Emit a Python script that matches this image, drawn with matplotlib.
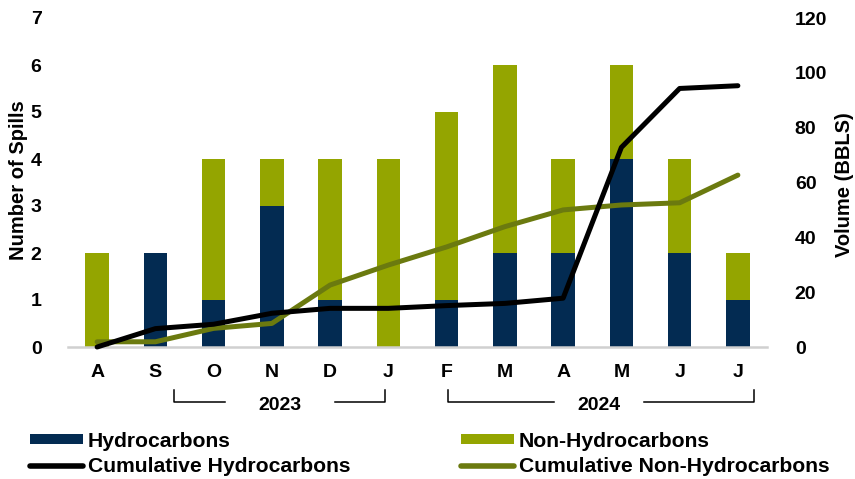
import matplotlib.pyplot as plt
import matplotlib.transforms as mtransforms
from matplotlib.patches import Patch
from matplotlib.lines import Line2D

months = ["A", "S", "O", "N", "D", "J", "F", "M", "A", "M", "J", "J"]
hydrocarbons = [0, 2, 1, 3, 1, 0, 1, 2, 2, 4, 2, 1]
non_hydrocarbons = [2, 0, 3, 1, 3, 4, 4, 4, 2, 2, 2, 1]
cum_hydro_bbls = [0, 6.7, 8.3, 12.3, 14.1, 14.1, 15.1, 15.9, 17.8, 72.8, 94.3, 95.3]
cum_non_hydro_bbls = [1.9, 1.9, 6.8, 8.6, 22.6, 29.9, 36.5, 43.9, 50, 51.8, 52.6, 62.7]
years = ["2023", "2024"]

NAVY = "#032B52"
OLIVE = "#94A500"
DARK_OLIVE = "#6B7A0F"

plt.rcParams["font.family"] = ["Liberation Sans", "DejaVu Sans"]
plt.rcParams["font.weight"] = "bold"

W, H = 855, 479
fig = plt.figure(figsize=(W / 100, H / 100), dpi=100)
ax = fig.add_axes([68 / W, 1 - 347 / H, 699 / W, 329 / H])
ax2 = ax.twinx()

x = list(range(len(months)))
ax.bar(x, hydrocarbons, width=0.4, color=NAVY, zorder=2)
ax.bar(x, non_hydrocarbons, width=0.4, bottom=hydrocarbons, color=OLIVE, zorder=2)

ax2.plot(x, cum_non_hydro_bbls, color=DARK_OLIVE, lw=3.6, solid_capstyle="round", clip_on=False, zorder=3)
ax2.plot(x, cum_hydro_bbls, color="black", lw=3.6, solid_capstyle="round", clip_on=False, zorder=4)

ax.set_xlim(-0.5, len(months) - 0.5)
ax.set_ylim(0, 7)
ax2.set_ylim(0, 120)
ax.set_yticks(range(0, 8))
ax2.set_yticks(range(0, 121, 20))
ax.set_xticks(x)
ax.set_xticklabels(months)

for a in (ax, ax2):
    for s in a.spines.values():
        s.set_visible(False)
    a.tick_params(length=0, labelsize=14)
ax.spines["bottom"].set_visible(True)
ax.spines["bottom"].set_color("#D0D0D0")
ax.spines["bottom"].set_linewidth(1.8)
ax.tick_params(axis="y", pad=19)
ax.tick_params(axis="x", pad=12)
ax2.tick_params(axis="y", pad=20)

# axis titles, placed in figure pixels
fig.text(19 / W, 1 - 180 / H, "Number of Spills", rotation=90, ha="center", va="center",
         fontsize=14.5, fontweight="bold")
fig.text(844 / W, 1 - 185 / H, "Volume (BBLS)", rotation=90, ha="center", va="center",
         fontsize=14.5, fontweight="bold")

# year brackets under the month labels
trans = mtransforms.blended_transform_factory(ax.transData, ax.transAxes)
y_top, y_bot, y_txt = -0.13, -0.168, -0.178
brackets = [(1.32, 2.2, 4.08, 4.95, 3.14), (6.03, 7.85, 9.38, 11.28, 8.62)]
for label, (x0, g0, g1, x1, xt) in zip(years, brackets):
    ax.plot([x0, x0, g0], [y_top, y_bot, y_bot], color="black", lw=1.1, transform=trans, clip_on=False)
    ax.plot([g1, x1, x1], [y_bot, y_bot, y_top], color="black", lw=1.1, transform=trans, clip_on=False)
    ax.text(xt, y_txt, label, transform=trans, ha="center", va="center", fontsize=14, fontweight="bold")

legend_kw = dict(loc="upper left", frameon=False, borderpad=0, borderaxespad=0,
                 handlelength=2.5, handleheight=0.35, handletextpad=0.25, labelspacing=0.3,
                 prop={"weight": "bold", "size": 15.2})
fig.legend([Patch(facecolor=NAVY, edgecolor="none"),
            Line2D([], [], color="black", lw=4, solid_capstyle="round")],
           ["Hydrocarbons", "Cumulative Hydrocarbons"],
           bbox_to_anchor=(30 / W, 1 - 432 / H), **legend_kw)
fig.legend([Patch(facecolor=OLIVE, edgecolor="none"),
            Line2D([], [], color=DARK_OLIVE, lw=4, solid_capstyle="round")],
           ["Non-Hydrocarbons", "Cumulative Non-Hydrocarbons"],
           bbox_to_anchor=(461 / W, 1 - 432 / H), **legend_kw)

fig.savefig("out.png", dpi=100)
